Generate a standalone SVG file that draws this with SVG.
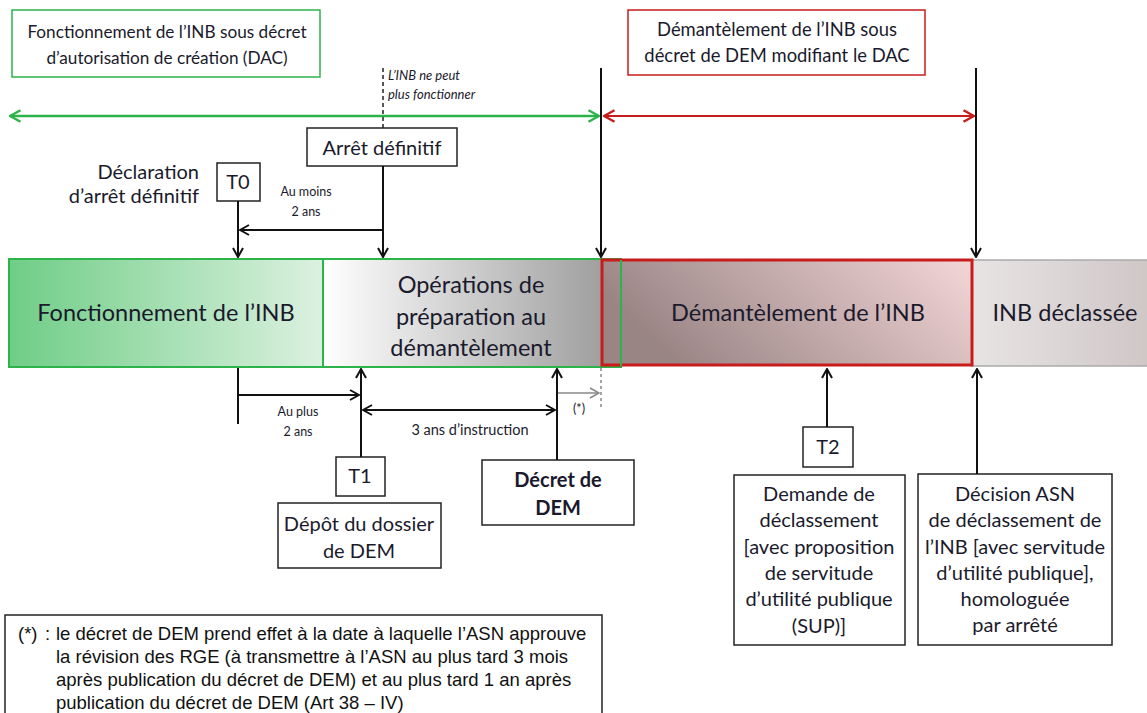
<svg xmlns="http://www.w3.org/2000/svg" width="1147" height="713" viewBox="0 0 1147 713">
<style>
.t{font-family:Lato,"Open Sans","Liberation Sans",sans-serif;fill:#1a1a2c;text-anchor:middle}
.hd{font-size:17.2px}
.hr{font-size:18.4px}
.big{font-size:23.5px}
.mid{font-size:20px}
.sm{font-size:12.5px}
.sm2{font-size:14.5px}
.it{font-size:13px;font-style:italic;text-anchor:start}
.box{fill:#fff;stroke:#222;stroke-width:1.5}
.ln{stroke:#111;stroke-width:2;fill:none}
.fn{font-family:"Liberation Sans",Arial,sans-serif;font-size:18.5px;fill:#111}
</style>
<defs>
<marker id="ab" viewBox="0 0 12 12" refX="11" refY="6" markerWidth="12" markerHeight="12" markerUnits="userSpaceOnUse" orient="auto-start-reverse"><path d="M2,1 L11,6 L2,11" fill="none" stroke="#111" stroke-width="2"/></marker>
<marker id="ag" viewBox="0 0 12 12" refX="11" refY="6" markerWidth="14" markerHeight="14" markerUnits="userSpaceOnUse" orient="auto-start-reverse"><path d="M2,1 L11,6 L2,11" fill="none" stroke="#2cb34a" stroke-width="2"/></marker>
<marker id="ar" viewBox="0 0 12 12" refX="11" refY="6" markerWidth="14" markerHeight="14" markerUnits="userSpaceOnUse" orient="auto-start-reverse"><path d="M2,1 L11,6 L2,11" fill="none" stroke="#c81c1c" stroke-width="2"/></marker>
<marker id="agr" viewBox="0 0 12 12" refX="11" refY="6" markerWidth="12" markerHeight="12" markerUnits="userSpaceOnUse" orient="auto"><path d="M2,1 L11,6 L2,11" fill="none" stroke="#888" stroke-width="1.5"/></marker>
<linearGradient id="gGreen" x1="0" x2="1" y1="0" y2="0"><stop offset="0" stop-color="#6fcd86"/><stop offset="1" stop-color="#dcf1e0"/></linearGradient>
<linearGradient id="gGrey" x1="0" x2="1" y1="0" y2="0"><stop offset="0" stop-color="#ffffff"/><stop offset="1" stop-color="#999999"/></linearGradient>
<linearGradient id="gRed" x1="0" x2="1" y1="0.3" y2="0"><stop offset="0" stop-color="#9a8585"/><stop offset="1" stop-color="#f4d6d7"/></linearGradient>
<linearGradient id="gDecl" x1="0" x2="1" y1="0" y2="0"><stop offset="0" stop-color="#e8e4e4"/><stop offset="1" stop-color="#cfc6c6"/></linearGradient>
</defs>

<g id="header-dac">
<rect x="12" y="10" width="308" height="67" fill="#fff" stroke="#2cb34a" stroke-width="1.5"/>
<text class="t hd" x="167" y="38">Fonctionnement de l’INB sous décret</text>
<text class="t hd" x="167" y="64">d’autorisation de création (DAC)</text>
</g>
<g id="header-dem">
<rect x="628" y="10" width="297" height="65" fill="#fff" stroke="#c81c1c" stroke-width="1.5"/>
<text class="t hr" x="777" y="36">Démantèlement de l’INB sous</text>
<text class="t hr" x="777" y="62">décret de DEM modifiant le DAC</text>
</g>

<g id="note-stop">
<text class="t it" x="388" y="80">L’INB ne peut</text>
<text class="t it" x="388" y="99">plus fonctionner</text>
</g>

<g id="bar-fonctionnement">
<rect x="9" y="259" width="314" height="108" fill="url(#gGreen)" stroke="#2cb34a" stroke-width="2"/>
<text class="t big" x="166" y="321">Fonctionnement de l’INB</text>
</g>
<g id="bar-preparation">
<rect x="323" y="259" width="298" height="108" fill="url(#gGrey)" stroke="#2cb34a" stroke-width="2"/>
<text class="t big" x="471" y="293">Opérations de</text>
<text class="t big" x="471" y="325">préparation au</text>
<text class="t big" x="471" y="356">démantèlement</text>
</g>
<g id="bar-declassee">
<rect x="972" y="260" width="180" height="106" fill="url(#gDecl)" stroke="#aaa" stroke-width="1.5"/>
<text class="t big" x="1065" y="321">INB déclassée</text>
</g>
<g id="bar-demantelement">
<rect x="602" y="260" width="370" height="105" fill="url(#gRed)" stroke="#c81c1c" stroke-width="3"/>
<line x1="621" y1="260" x2="621" y2="366" stroke="#2cb34a" stroke-width="2"/>
<text class="t big" x="798" y="321">Démantèlement de l’INB</text>
</g>

<g id="arret">
<rect class="box" x="307" y="128" width="150" height="38"/>
<text class="t mid" x="382" y="155">Arrêt définitif</text>
</g>
<g id="t0">
<rect class="box" x="217" y="163" width="43" height="38"/>
<text class="t mid" x="238" y="189">T0</text>
<text class="t mid" x="199" y="179" style="text-anchor:end">Déclaration</text>
<text class="t mid" x="199" y="203" style="text-anchor:end">d’arrêt définitif</text>
</g>
<g id="t1">
<rect class="box" x="336" y="457" width="49" height="39"/>
<text class="t mid" x="360" y="483">T1</text>
</g>
<g id="depot">
<rect class="box" x="278" y="503" width="163" height="65"/>
<text class="t mid" x="359" y="531">Dépôt du dossier</text>
<text class="t mid" x="359" y="558">de DEM</text>
</g>
<g id="decret">
<rect class="box" x="482" y="460" width="152" height="65"/>
<text class="t mid" x="558" y="487" font-weight="bold">Décret de</text>
<text class="t mid" x="558" y="515" font-weight="bold">DEM</text>
</g>
<g id="t2">
<rect class="box" x="803" y="427" width="50" height="40"/>
<text class="t mid" x="828" y="454">T2</text>
</g>
<g id="demande">
<rect class="box" x="734" y="475" width="171" height="170"/>
<text class="t mid" x="819" y="501">Demande de</text>
<text class="t mid" x="819" y="527">déclassement</text>
<text class="t mid" x="819" y="554">[avec proposition</text>
<text class="t mid" x="819" y="580">de servitude</text>
<text class="t mid" x="819" y="606">d’utilité publique</text>
<text class="t mid" x="819" y="633">(SUP)]</text>
</g>
<g id="decision">
<rect class="box" x="918" y="474" width="194" height="171"/>
<text class="t mid" x="1015" y="501">Décision ASN</text>
<text class="t mid" x="1015" y="527">de déclassement de</text>
<text class="t mid" x="1015" y="554">l’INB [avec servitude</text>
<text class="t mid" x="1015" y="580">d’utilité publique],</text>
<text class="t mid" x="1015" y="606">homologuée</text>
<text class="t mid" x="1015" y="632">par arrêté</text>
</g>

<g id="labels">
<text class="t sm" x="306" y="196">Au moins</text>
<text class="t sm" x="306" y="216">2 ans</text>
<text class="t sm" x="298" y="416">Au plus</text>
<text class="t sm" x="298" y="436">2 ans</text>
<text class="t sm2" x="470" y="435">3 ans d’instruction</text>
<text class="t sm" x="579" y="413">(*)</text>
</g>

<g id="connectors">
<line x1="10" y1="116" x2="599" y2="116" stroke="#2cb34a" stroke-width="2.5" marker-start="url(#ag)" marker-end="url(#ag)"/>
<line x1="604" y1="116" x2="974" y2="116" stroke="#c81c1c" stroke-width="2" marker-start="url(#ar)" marker-end="url(#ar)"/>
<line x1="383" y1="68" x2="383" y2="128" stroke="#222" stroke-width="1.5" stroke-dasharray="4,3"/>
<line class="ln" x1="601" y1="68" x2="601" y2="257" marker-end="url(#ab)"/>
<line class="ln" x1="976" y1="68" x2="976" y2="257" marker-end="url(#ab)"/>
<line class="ln" x1="383" y1="166" x2="383" y2="257" marker-end="url(#ab)"/>
<line class="ln" x1="238" y1="201" x2="238" y2="257" marker-end="url(#ab)"/>
<line class="ln" x1="383" y1="230" x2="240" y2="230" marker-end="url(#ab)"/>
<line class="ln" x1="238" y1="368" x2="238" y2="424"/>
<line class="ln" x1="238" y1="395" x2="359" y2="395" marker-end="url(#ab)"/>
<line class="ln" x1="361" y1="457" x2="361" y2="369" marker-end="url(#ab)"/>
<line class="ln" x1="363" y1="410" x2="555" y2="410" marker-start="url(#ab)" marker-end="url(#ab)"/>
<line class="ln" x1="557" y1="460" x2="557" y2="369" marker-end="url(#ab)"/>
<line x1="558" y1="393" x2="599" y2="393" stroke="#888" stroke-width="1.5" marker-end="url(#agr)"/>
<line x1="601" y1="368" x2="601" y2="410" stroke="#888" stroke-width="1.5" stroke-dasharray="3,3"/>
<line class="ln" x1="827" y1="427" x2="827" y2="369" marker-end="url(#ab)"/>
<line class="ln" x1="977" y1="474" x2="977" y2="369" marker-end="url(#ab)"/>
</g>

<g id="footnote">
<rect x="5" y="615" width="597" height="110" fill="#fff" stroke="#222" stroke-width="1.5"/>
<text class="fn" x="18" y="640">(*)</text>
<text class="fn" x="45" y="640">:</text>
<text class="fn" x="56" y="640">le décret de DEM prend effet à la date à laquelle l’ASN approuve</text>
<text class="fn" x="56" y="663">la révision des RGE (à transmettre à l’ASN au plus tard 3 mois</text>
<text class="fn" x="56" y="686">après publication du décret de DEM) et au plus tard 1 an après</text>
<text class="fn" x="56" y="709">publication du décret de DEM (Art 38 – IV)</text>
</g>
</svg>
